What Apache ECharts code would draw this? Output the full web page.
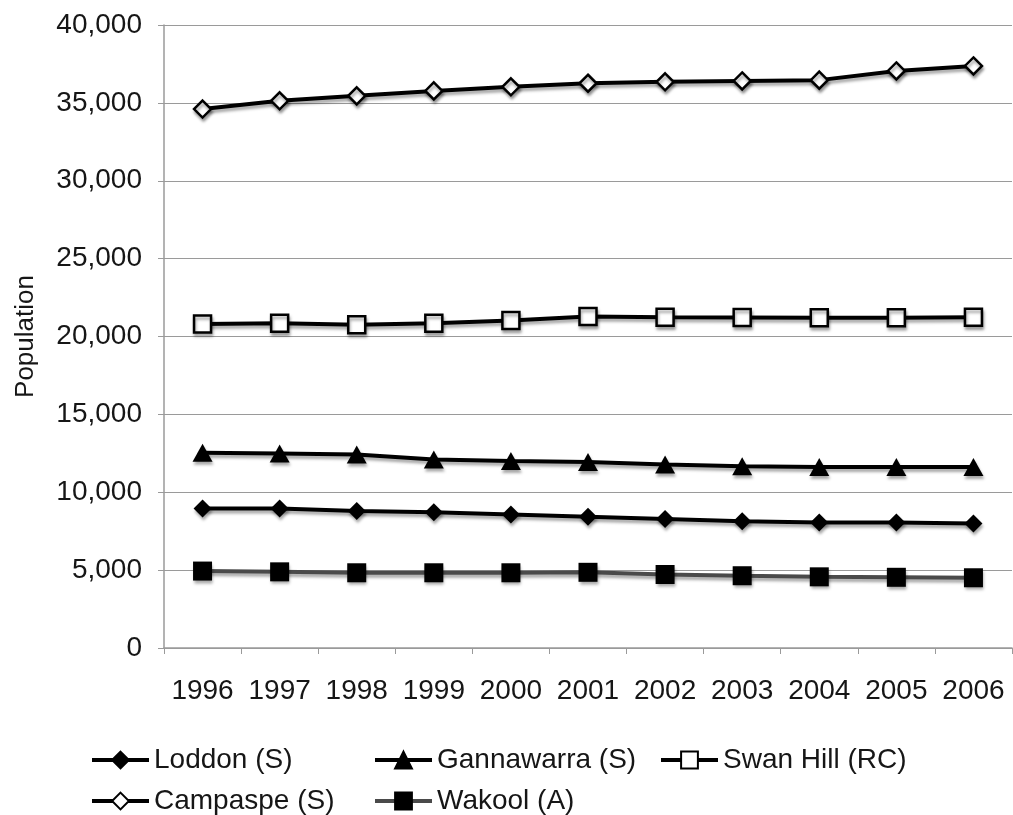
<!DOCTYPE html>
<html>
<head>
<meta charset="utf-8">
<title>Population, 1996–2006</title>
<script src="https://cdn.jsdelivr.net/npm/echarts@6/dist/echarts.min.js"></script>
<style>
  html, body { margin: 0; padding: 0; background: #ffffff; }
  #chart { width: 1013px; height: 815px; }
</style>
</head>
<body>
<div id="chart"></div>
<script>
// Estimated resident population by local government area
const years = ['1996', '1997', '1998', '1999', '2000', '2001', '2002', '2003', '2004', '2005', '2006'];
const loddon     = [8960, 8950, 8800, 8720, 8570, 8420, 8290, 8140, 8060, 8050, 7990];
const gannawarra = [12540, 12480, 12420, 12100, 12010, 11940, 11780, 11670, 11620, 11620, 11620];
const swanHill   = [20810, 20850, 20750, 20850, 21030, 21280, 21240, 21220, 21200, 21200, 21240];
const campaspe   = [34600, 35130, 35450, 35770, 36030, 36260, 36350, 36410, 36460, 37050, 37370];
const wakool     = [4940, 4890, 4830, 4830, 4830, 4860, 4720, 4640, 4570, 4540, 4510];
const yTicks = { min: 0, max: 40000, step: 5000 };

const FONT = '"Liberation Sans", Arial, Helvetica, sans-serif';
const TEXT = '#161616';
const GRID = '#9a9a9a';

const shadow = {
  shadowColor: 'rgba(0,0,0,0.35)',
  shadowBlur: 3,
  shadowOffsetX: 1,
  shadowOffsetY: 3
};

function lineSeries(name, data, symbol, size, fill, lineColor) {
  return {
    name: name,
    type: 'line',
    data: data,
    symbol: symbol,
    symbolSize: size,
    showAllSymbol: true,
    lineStyle: Object.assign({ color: lineColor, width: 4 }, shadow),
    itemStyle: Object.assign({
      color: fill,
      borderColor: '#000',
      borderWidth: fill === '#ffffff' ? 2.5 : 0
    }, shadow),
    emphasis: { disabled: true },
    animation: false
  };
}

const series = [
  lineSeries('Loddon (S)', loddon, 'diamond', 18, '#000000', '#000000'),
  lineSeries('Gannawarra (S)', gannawarra, 'triangle', [20, 18], '#000000', '#000000'),
  lineSeries('Swan Hill (RC)', swanHill, 'rect', 17, '#ffffff', '#000000'),
  lineSeries('Campaspe (S)', campaspe, 'diamond', 17, '#ffffff', '#000000'),
  lineSeries('Wakool (A)', wakool, 'rect', 19, '#000000', '#4a4a4a')
];

function legendColumn(left, names) {
  return {
    orient: 'vertical',
    left: left,
    top: 746,
    itemWidth: 57,
    itemHeight: 21,
    itemGap: 13,
    padding: 0,
    selectedMode: false,
    data: names,
    lineStyle: { width: 4 },
    itemStyle: { borderWidth: 2 },
    textStyle: { fontFamily: FONT, fontSize: 28, color: TEXT, padding: [0, 0, 0, 0] }
  };
}

const chart = echarts.init(document.getElementById('chart'), null, { renderer: 'canvas' });
chart.setOption({
  backgroundColor: '#ffffff',
  animation: false,
  grid: { left: 164, right: 1, top: 25, bottom: 167, containLabel: false, outerBoundsMode: 'none' },
  legend: [
    legendColumn(90, ['Loddon (S)', 'Campaspe (S)']),
    legendColumn(373, ['Gannawarra (S)', 'Wakool (A)']),
    legendColumn(659, ['Swan Hill (RC)'])
  ],
  xAxis: {
    type: 'category',
    data: years,
    boundaryGap: true,
    axisLine: { lineStyle: { color: GRID, width: 1.5 } },
    axisTick: { show: true, length: 6, lineStyle: { color: GRID } },
    axisLabel: { fontFamily: FONT, fontSize: 28, color: TEXT, margin: 29, interval: 0, hideOverlap: false },
    splitLine: { show: false }
  },
  yAxis: {
    type: 'value',
    min: yTicks.min,
    max: yTicks.max,
    interval: yTicks.step,
    name: 'Population',
    nameLocation: 'middle',
    nameGap: 117,
    nameRotate: 90,
    nameTextStyle: { fontFamily: FONT, fontSize: 26, color: TEXT, padding: [0, 0, 8, 0] },
    axisLine: { show: true, lineStyle: { color: GRID, width: 1.5 } },
    axisTick: { show: true, length: 6, lineStyle: { color: GRID } },
    axisLabel: {
      fontFamily: FONT, fontSize: 28, color: TEXT, margin: 22,
      formatter: v => v.toLocaleString('en-US')
    },
    splitLine: { show: true, lineStyle: { color: GRID, width: 1.2 } }
  },
  series: series
});
</script>
</body>
</html>
